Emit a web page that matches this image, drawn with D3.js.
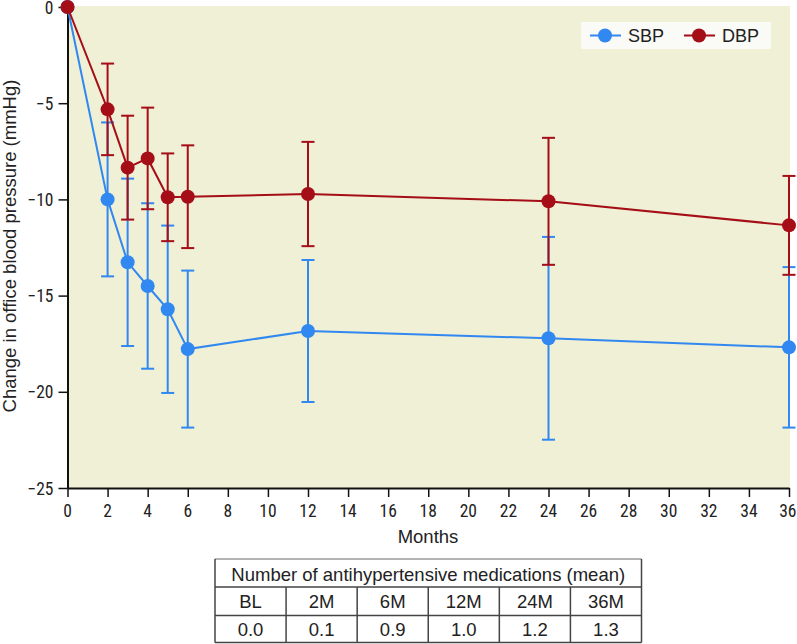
<!DOCTYPE html>
<html>
<head>
<meta charset="utf-8">
<script src="https://cdn.jsdelivr.net/npm/d3@7"></script>
<style>
  body { margin: 0; background: #fff; }
  svg { display: block; }
  .lab { font-family: "Liberation Sans", Arial, sans-serif; font-size: 18.5px; fill: #222; }
  .leg { font-family: "Liberation Sans", Arial, sans-serif; font-size: 18px; fill: #222; }
  .tl { font-family: "Roboto Condensed", "DejaVu Sans Condensed", sans-serif; font-size: 17.5px; fill: #222; }
</style>
</head>
<body>
<svg width="797" height="644"></svg>
<script>
// months of follow-up
var months = [0, 2, 3, 4, 5, 6, 12, 24, 36];
// mean change (mmHg) and error bar half-length
var sbp    = [0, -10.0, -13.27, -14.5, -15.71, -17.78, -16.84, -17.22, -17.69];
var sbpErr = [0, 4.0, 4.35, 4.3, 4.35, 4.08, 3.69, 5.27, 4.17];
var dbp    = [0, -5.32, -8.35, -7.87, -9.89, -9.86, -9.72, -10.1, -11.35];
var dbpErr = [0, 2.38, 2.7, 2.64, 2.28, 2.67, 2.71, 3.3, 2.57];

var xTicks = d3.range(0, 37, 2);
var yTicks = [0, -5, -10, -15, -20, -25];

// medications table
var tableTitle = "Number of antihypertensive medications (mean)";
var medCols = ["BL", "2M", "6M", "12M", "24M", "36M"];
var medVals = [0.0, 0.1, 0.9, 1.0, 1.2, 1.3];

var blue = "#3188f0", red = "#a50d17";

var svg = d3.select("svg");

var x = d3.scaleLinear().domain([0, 36]).range([67.5, 789]);
var y = d3.scaleLinear().domain([0, -25]).range([7, 488]);

function fmt(d){ return d < 0 ? "\u2212" + Math.abs(d) : String(d); }

// plot background
svg.append("rect")
	.attr("x", x(0)).attr("y", 6)
	.attr("width", 790 - x(0)).attr("height", y(-25) - 6)
	.attr("fill", "#eff0d6");

// axes (lines from d3, labels drawn below)
var xAxis = svg.append("g")
	.attr("transform", "translate(0," + y(-25) + ")")
	.call(d3.axisBottom(x).tickValues(xTicks).tickSize(9).tickFormat("").tickSizeOuter(0));
var yAxis = svg.append("g")
	.attr("transform", "translate(" + x(0) + ",0)")
	.call(d3.axisLeft(y).tickValues(yTicks).tickSize(9).tickFormat("").tickSizeOuter(0));

[xAxis, yAxis].forEach(function(a){
	a.select(".domain").attr("stroke", "#111").attr("stroke-width", 2);
	a.selectAll(".tick line").attr("stroke", "#111").attr("stroke-width", 1.5);
});

svg.append("g").selectAll("text")
	.data(xTicks)
	.enter().append("text")
	.attr("class", "tl")
	.attr("x", function(d){ return d === 36 ? 796.5 : x(d); })
	.attr("y", y(-25) + 29)
	.attr("text-anchor", function(d){ return d === 36 ? "end" : "middle"; })
	.text(fmt);

svg.append("g").selectAll("text")
	.data(yTicks)
	.enter().append("text")
	.attr("class", "tl")
	.attr("x", x(0) - 14)
	.attr("y", function(d){ return d === 0 ? y(d) + 7 : y(d) + 6.5; })
	.attr("text-anchor", "end")
	.text(fmt);

// axis titles
svg.append("text").attr("class", "lab")
	.attr("x", 428).attr("y", 543).attr("text-anchor", "middle")
	.text("Months");
svg.append("text").attr("class", "lab")
	.attr("transform", "translate(16,246) rotate(-90)")
	.attr("text-anchor", "middle")
	.text("Change in office blood pressure (mmHg)");

var series = [
	{ name: "SBP", vals: sbp, err: sbpErr, color: blue },
	{ name: "DBP", vals: dbp, err: dbpErr, color: red }
];

series.forEach(function(s){
	var pts = months.map(function(m, i){ return { m: m, v: s.vals[i], e: s.err[i] }; });
	var g = svg.append("g");

	// error bars
	var eb = g.selectAll(".eb")
		.data(pts.filter(function(d){ return d.e > 0; }))
		.enter().append("g")
		.attr("stroke", s.color).attr("stroke-width", 2);
	eb.append("line")
		.attr("x1", function(d){ return x(d.m); }).attr("x2", function(d){ return x(d.m); })
		.attr("y1", function(d){ return y(d.v + d.e); }).attr("y2", function(d){ return y(d.v - d.e); });
	[1, -1].forEach(function(sign){
		eb.append("line")
			.attr("x1", function(d){ return x(d.m) - 6.5; }).attr("x2", function(d){ return x(d.m) + 6.5; })
			.attr("y1", function(d){ return y(d.v + sign * d.e); })
			.attr("y2", function(d){ return y(d.v + sign * d.e); });
	});

	// line
	g.append("path")
		.datum(pts)
		.attr("fill", "none")
		.attr("stroke", s.color)
		.attr("stroke-width", 2)
		.attr("d", d3.line().x(function(d){ return x(d.m); }).y(function(d){ return y(d.v); }));

	// markers
	g.selectAll("circle")
		.data(pts)
		.enter().append("circle")
		.attr("cx", function(d){ return x(d.m); })
		.attr("cy", function(d){ return y(d.v); })
		.attr("r", 7)
		.attr("fill", s.color);
});

// legend
var leg = svg.append("g");
leg.append("rect")
	.attr("x", 581).attr("y", 22).attr("width", 190).attr("height", 27)
	.attr("fill", "#fafaf6");
series.forEach(function(s, i){
	var lx = 590 + i * 94;
	leg.append("line")
		.attr("x1", lx).attr("x2", lx + 31).attr("y1", 35.5).attr("y2", 35.5)
		.attr("stroke", s.color).attr("stroke-width", 2);
	leg.append("circle")
		.attr("cx", lx + 15).attr("cy", 35.5).attr("r", 7).attr("fill", s.color);
	leg.append("text").attr("class", "leg")
		.attr("x", lx + 38).attr("y", 42)
		.text(s.name);
});

// medications table
var tLeft = 215, tRight = 641.5, tTop = 559, rowH = [28, 28.5, 27];
var col = d3.scaleBand().domain(medCols).range([tLeft, tRight]);
var tbl = svg.append("g").attr("stroke", "#444").attr("stroke-width", 1.5);
var r1 = tTop + rowH[0], r2 = r1 + rowH[1], r3 = r2 + rowH[2];
tbl.append("line").attr("x1", tLeft).attr("x2", tRight).attr("y1", tTop).attr("y2", tTop).attr("stroke", "#999");
[r1, r2, r3].forEach(function(yy){
	tbl.append("line").attr("x1", tLeft).attr("x2", tRight).attr("y1", yy).attr("y2", yy);
});
tbl.append("line").attr("x1", tLeft).attr("x2", tLeft).attr("y1", tTop).attr("y2", r3);
tbl.append("line").attr("x1", tRight).attr("x2", tRight).attr("y1", tTop).attr("y2", r3);
medCols.slice(1).forEach(function(c){
	tbl.append("line").attr("x1", col(c)).attr("x2", col(c)).attr("y1", r1).attr("y2", r3);
});

svg.append("text").attr("class", "lab")
	.attr("x", (tLeft + tRight) / 2).attr("y", tTop + 22)
	.attr("text-anchor", "middle")
	.text(tableTitle);
svg.selectAll(".colh").data(medCols).enter().append("text")
	.attr("class", "lab")
	.attr("x", function(d){ return col(d) + col.bandwidth() / 2; })
	.attr("y", r1 + 21)
	.attr("text-anchor", "middle")
	.text(function(d){ return d; });
svg.selectAll(".colv").data(medVals).enter().append("text")
	.attr("class", "lab")
	.attr("x", function(d, i){ return col(medCols[i]) + col.bandwidth() / 2; })
	.attr("y", r2 + 20.5)
	.attr("text-anchor", "middle")
	.text(function(d){ return d.toFixed(1); });
</script>
</body>
</html>
